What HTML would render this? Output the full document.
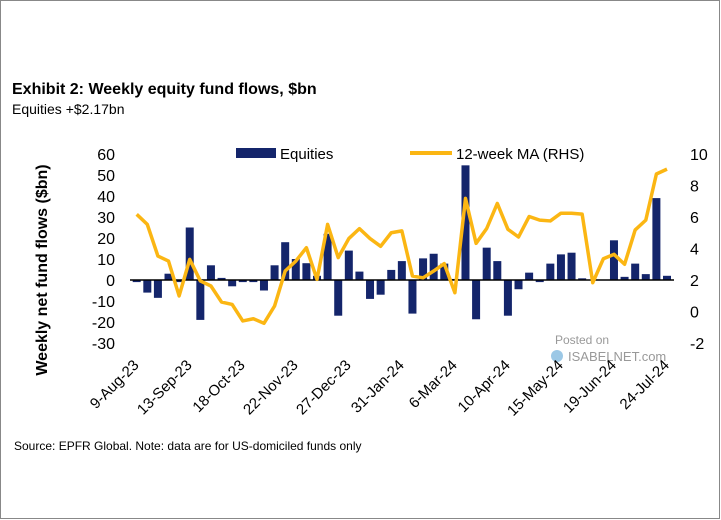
<!DOCTYPE html>
<html><head><meta charset="utf-8"><style>
body{margin:0;background:#fff;}
svg{display:block;font-family:"Liberation Sans",sans-serif;}
</style></head><body>
<svg id="c" width="721" height="520">
<rect x="0.5" y="0.5" width="719" height="518" fill="#fff" stroke="#888"/>
<text x="12" y="94" font-size="16" font-weight="bold" fill="#000">Exhibit 2: Weekly equity fund flows, $bn</text>
<text x="12" y="114" font-size="14" fill="#000">Equities +$2.17bn</text>
<text transform="translate(47,270) rotate(-90)" text-anchor="middle" font-size="16" font-weight="bold">Weekly net fund flows ($bn)</text>
<g>
<rect x="236" y="148" width="40" height="10" fill="#14256b"/>
<text x="280" y="159" font-size="15">Equities</text>
<line x1="410" y1="153" x2="452" y2="153" stroke="#fbb613" stroke-width="4"/>
<text x="456" y="159" font-size="15">12-week MA (RHS)</text>
</g>
<text x="555" y="344" font-size="12" fill="#999">Posted on</text>
<circle cx="557" cy="356" r="6" fill="#9cc8e6"/>
<text x="568" y="361" font-size="13" fill="#999">ISABELNET.com</text>
<text x="14" y="450" font-size="12" fill="#000">Source: EPFR Global. Note: data are for US-domiciled funds only</text>
<g id="plot"></g>
</svg>
<script>
const dateLabels=["9-Aug-23","13-Sep-23","18-Oct-23","22-Nov-23","27-Dec-23","31-Jan-24","6-Mar-24","10-Apr-24","15-May-24","19-Jun-24","24-Jul-24"];
const flows=[-1,-6,-8.5,3,-1,25,-19,7,1,-3,-1,-1,-5,7,18,10,8,2,22,-17,14,4,-9,-7,4.8,9,-16,10.3,12.5,7.8,0.5,54.6,-18.7,15.4,9,-17,-4.4,3.5,-1,7.8,12.2,13,0.8,0,0,18.9,1.5,7.8,2.8,39,2];
const ma=[6.17,5.53,3.52,3.2,0.99,3.31,1.94,1.62,0.6,0.45,-0.6,-0.46,-0.75,0.35,2.57,3.2,4.05,2.04,5.53,3.42,4.63,5.26,4.63,4.14,5.0,5.12,2.25,2.14,2.57,3.04,1.19,7.18,4.33,5.27,6.86,5.22,4.73,6.03,5.8,5.75,6.24,6.24,6.18,1.83,3.35,3.63,3.0,5.18,5.8,8.73,9.04];
const leftTicks=[60,50,40,30,20,10,0,-10,-20,-30];
const rightTicks=[10,8,6,4,2,0,-2];
const NS="http://www.w3.org/2000/svg";
const g=document.getElementById('plot');
const x0=136.7,x1=667,yTop=154,yBot=343;
const xs=i=>x0+i*(x1-x0)/(flows.length-1);
const yL=v=>yTop+(60-v)*(yBot-yTop)/90;
const yR=v=>yTop+(10-v)*(yBot-yTop)/12;
function mk(t,a){const e=document.createElementNS(NS,t);for(const k in a)e.setAttribute(k,a[k]);g.appendChild(e);return e;}
leftTicks.forEach(v=>{const t=mk('text',{x:115,y:yL(v)+6,'text-anchor':'end','font-size':16});t.textContent=v;

});
rightTicks.forEach(v=>{const t=mk('text',{x:690,y:yR(v)+6,'font-size':16});t.textContent=v;

});
const bw=8;
flows.forEach((v,i)=>{const y=Math.min(yL(v),yL(0)),h=Math.abs(yL(v)-yL(0));
const r=mk('rect',{x:xs(i)-bw/2,y:y,width:bw,height:h,fill:'#14256b'});

});
const zl=mk('line',{x1:130,x2:674,y1:yL(0),y2:yL(0),stroke:'#000','stroke-width':1.5});


const p=mk('polyline',{points:ma.map((v,i)=>xs(i)+','+yR(v)).join(' '),fill:'none',stroke:'#fbb613','stroke-width':3.5,'stroke-linejoin':'round'});


dateLabels.forEach((d,k)=>{const x=xs(k*5)+3,y=366;
const t=mk('text',{x:x,y:y,'text-anchor':'end','font-size':15,transform:`rotate(-45 ${x} ${y})`});t.textContent=d;

});
</script>
</body></html>
